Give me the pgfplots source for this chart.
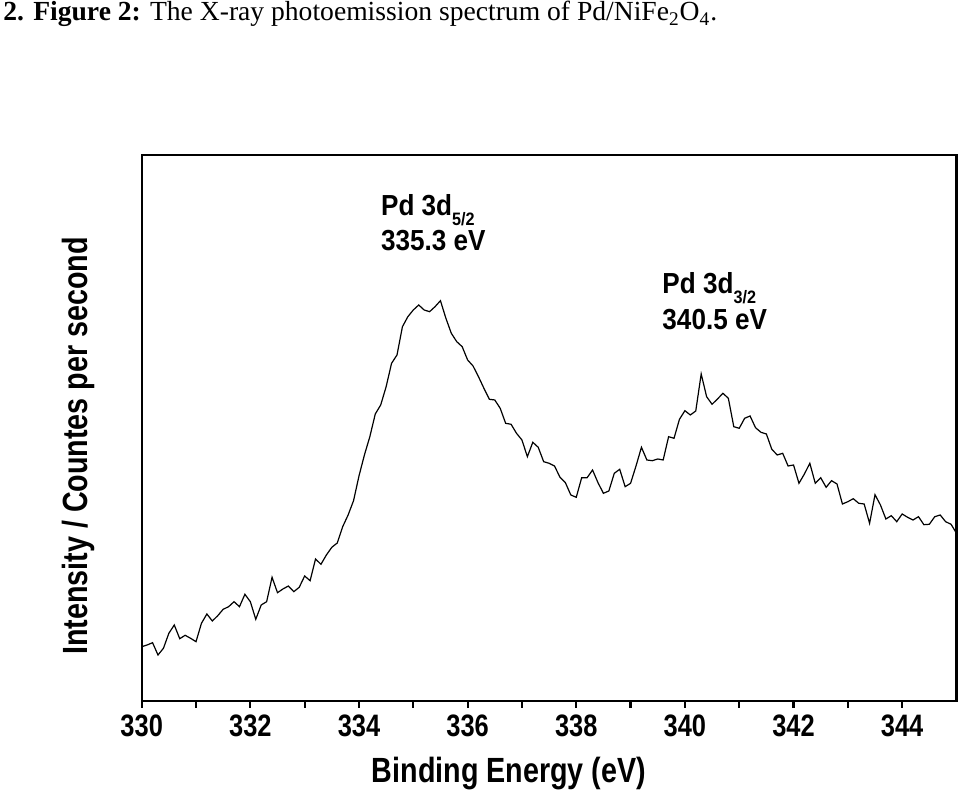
\documentclass[border=0pt]{standalone}
\usepackage{fontspec}
\setmainfont{Liberation Serif}
\newfontfamily\lab[FakeStretch=0.82]{Liberation Sans}
\newfontfamily\ann[FakeStretch=0.9]{Liberation Sans}
\usepackage{pgfplots}
\pgfplotsset{compat=1.18}
\begin{document}
\begin{tikzpicture}
\begin{axis}[
  at={(0,0)}, anchor=south west,
  width=407.4pt, height=273pt, scale only axis,
  xmin=330, xmax=345, ymin=0, ymax=546,
  axis line style={line width=1.1pt},
  xtick={330,332,...,344}, minor x tick num=1,
  ytick=\empty,
  xtick pos=bottom, tick align=outside,
  major tick length=3.5pt, minor tick length=3.5pt,
  every tick/.style={black, line width=1.1pt},
  xticklabel style={font=\lab\bfseries\fontsize{15.5}{15.5}\selectfont},
  /pgf/number format/assume math mode=true,
  /pgf/number format/set thousands separator={},
  clip=false,
]
\addplot[black, line width=0.6pt] table {
330.0 54.3
330.1 56
330.2 58.3
330.3 46
330.4 52.7
330.5 67.7
330.6 76
330.7 62.3
330.8 65.7
330.9 62.7
331.0 59.3
331.1 77.7
331.2 87
331.3 80
331.4 85.3
331.5 91.7
331.6 94.3
331.7 99.3
331.8 94.3
331.9 106.7
332.0 99.3
332.1 81.7
332.2 96
332.3 99.3
332.4 123.7
332.5 108.3
332.6 112
332.7 115
332.8 109.3
332.9 113.7
333.0 125
333.1 120.3
333.2 142
333.3 136.7
333.4 146
333.5 153.7
333.6 158
333.7 174.3
333.8 186
333.9 200.3
334.0 225
334.1 246
334.2 264.3
334.3 287
334.4 296
334.5 314.3
334.6 337.7
334.7 346
334.8 374.3
334.9 384.3
335.0 391
335.1 396
335.2 391
335.3 389.3
335.4 394.3
335.5 400.3
335.6 382.7
335.7 367.7
335.8 359.3
335.9 354.3
336.0 341
336.1 335
336.2 324.3
336.3 312.7
336.4 301.7
336.5 301
336.6 292.7
336.7 277.7
336.8 276.7
336.9 267.7
337.0 261
337.1 244.3
337.2 258.7
337.3 253.7
337.4 239.3
337.5 237.7
337.6 235
337.7 223.7
337.8 218.3
337.9 206
338.0 203.7
338.1 223.3
338.2 223.3
338.3 231
338.4 218.3
338.5 207.7
338.6 210
338.7 227.7
338.8 231.7
338.9 214.3
339.0 217.7
339.1 235
339.2 253.7
339.3 241
339.4 240.3
339.5 242
339.6 241
339.7 264.3
339.8 262.7
339.9 281.7
340.0 290.3
340.1 286
340.2 290
340.3 327
340.4 304.3
340.5 296.7
340.6 302
340.7 307.7
340.8 302.7
340.9 274.3
341.0 272.7
341.1 282.7
341.2 285
341.3 273.3
341.4 268.7
341.5 267
341.6 251.7
341.7 246
341.8 247.7
341.9 235
342.0 236
342.1 217.7
342.2 227
342.3 237.7
342.4 217.7
342.5 223.3
342.6 213.7
342.7 220.3
342.8 217
342.9 197
343.0 199.3
343.1 202.3
343.2 197.7
343.3 197
343.4 177.7
343.5 206.3
343.6 196
343.7 182
343.8 185.3
343.9 179.3
344.0 187
344.1 183.7
344.2 181
344.3 184.3
344.4 176.3
344.5 176.7
344.6 184.3
344.7 186
344.8 179.3
344.9 176.7
345.0 167.7
};
\node[anchor=base west, inner sep=0pt, font=\ann\bfseries\fontsize{14.5}{14.5}\selectfont] at (axis cs:334.40,485) {Pd 3d\raisebox{-5pt}{\fontsize{9}{9}\selectfont 5/2}};
\node[anchor=base west, inner sep=0pt, font=\ann\bfseries\fontsize{14.5}{14.5}\selectfont] at (axis cs:334.40,450) {335.3 eV};
\node[anchor=base west, inner sep=0pt, font=\ann\bfseries\fontsize{14.5}{14.5}\selectfont] at (axis cs:339.58,407.7) {Pd 3d\raisebox{-5pt}{\fontsize{9}{9}\selectfont 3/2}};
\node[anchor=base west, inner sep=0pt, font=\ann\bfseries\fontsize{14.5}{14.5}\selectfont] at (axis cs:339.58,371) {340.5 eV};
\end{axis}
\node[anchor=base, inner sep=0pt, font=\lab\bfseries\fontsize{17.5}{17.5}\selectfont] at (183.65pt,-41pt) {Binding Energy (eV)};
\node[anchor=base, rotate=90, inner sep=0pt, font=\lab\bfseries\fontsize{17.5}{17.5}\selectfont] at (-27.3pt,127.5pt) {Intensity / Countes per second};
\node[anchor=base west, inner sep=0pt, font=\fontsize{13.8}{16}\selectfont] at (-69.35pt,340pt) {\textbf{2. Figure 2:} The X-ray photoemission spectrum of Pd/NiFe\textsubscript{2}O\textsubscript{4}.};
\pgfresetboundingbox
\useasboundingbox (-70.85pt,-44.5pt) rectangle (409.15pt,350.5pt);
\end{tikzpicture}
\end{document}
